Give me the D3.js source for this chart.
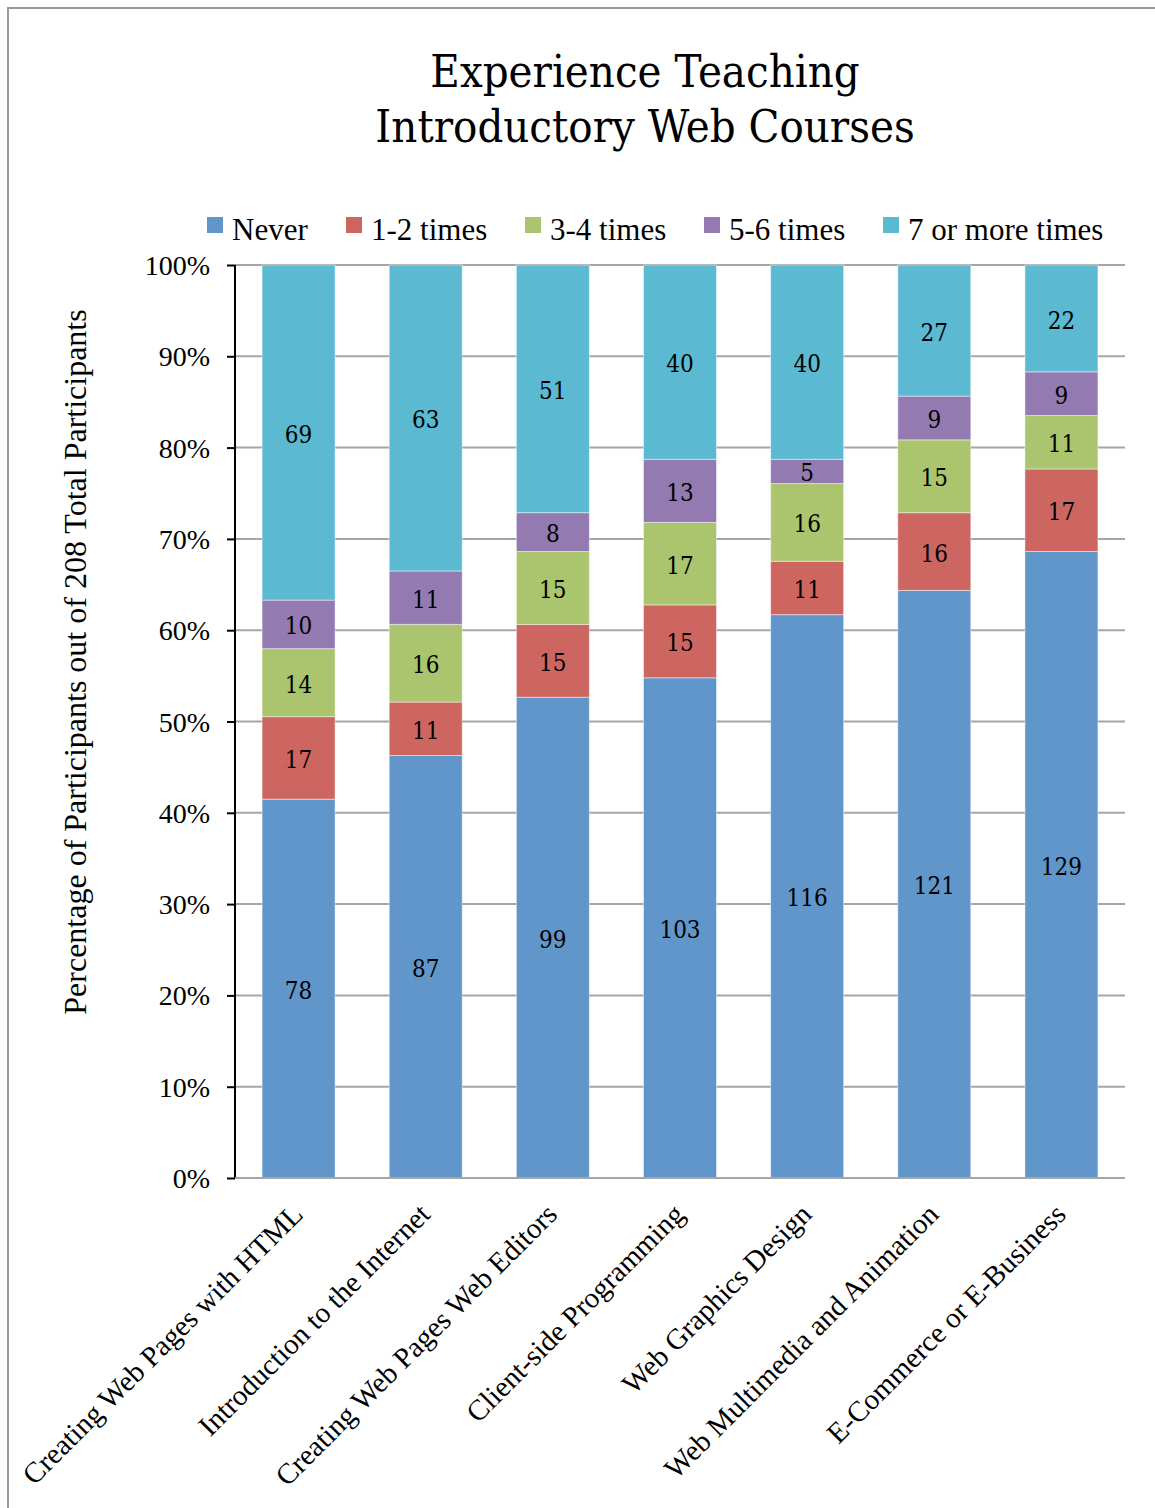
<!DOCTYPE html>
<html>
<head>
<meta charset="utf-8">
<script src="https://cdn.jsdelivr.net/npm/d3@7/dist/d3.min.js"></script>
<style>
  html, body { margin: 0; padding: 0; background: #fff; }
  svg { display: block; }
  .serif { font-family: "Liberation Serif", "Times New Roman", serif; }
  .cambria { font-family: "DejaVu Serif", serif; font-stretch: condensed; }
</style>
</head>
<body>
<svg id="chart" width="1155" height="1508"></svg>
<script>
// Courses taught and how often participants had taught each one
const categories = [
  "Creating Web Pages with HTML",
  "Introduction to the Internet",
  "Creating Web Pages Web Editors",
  "Client-side Programming",
  "Web Graphics Design",
  "Web Multimedia and Animation",
  "E-Commerce or E-Business"
];
const seriesNames = ["Never", "1-2 times", "3-4 times", "5-6 times", "7 or more times"];
const never      = [78, 87, 99, 103, 116, 121, 129];
const times1to2  = [17, 11, 15, 15, 11, 16, 17];
const times3to4  = [14, 16, 15, 17, 16, 15, 11];
const times5to6  = [10, 11, 8, 13, 5, 9, 9];
const times7plus = [69, 63, 51, 40, 40, 27, 22];
const yTicks = [0, 0.1, 0.2, 0.3, 0.4, 0.5, 0.6, 0.7, 0.8, 0.9, 1.0];
const colors = ["#6096C9", "#CD6661", "#ABC46E", "#937BB1", "#5BB9D2"];

const seriesValues = [never, times1to2, times3to4, times5to6, times7plus];

// Rows for d3.stack, normalised to shares of each course total
const rows = categories.map((c, i) => {
  const row = { category: c };
  seriesNames.forEach((s, k) => { row[s] = seriesValues[k][i]; });
  return row;
});

const svg = d3.select("#chart");

// Outer frame of the chart
svg.append("rect")
  .attr("x", 8).attr("y", 8)
  .attr("width", 1170).attr("height", 1520)
  .attr("fill", "#fff")
  .attr("stroke", "#9a9a9a").attr("stroke-width", 2);

const plot = { left: 235, right: 1125, top: 265, bottom: 1178 };

const x = d3.scaleBand()
  .domain(categories)
  .range([plot.left, plot.right])
  .paddingInner(0.426)
  .paddingOuter(0.213);

const y = d3.scaleLinear().domain([0, 1]).range([plot.bottom, plot.top]);

const stack = d3.stack().keys(seriesNames).offset(d3.stackOffsetExpand);
const layers = stack(rows);

// Horizontal gridlines
svg.append("g")
  .selectAll("line")
  .data(yTicks)
  .join("line")
  .attr("x1", plot.left).attr("x2", plot.right)
  .attr("y1", d => y(d)).attr("y2", d => y(d))
  .attr("stroke", "#a6a6a6").attr("stroke-width", 2);

// Stacked bars
const layerG = svg.append("g")
  .selectAll("g")
  .data(layers)
  .join("g")
  .attr("fill", (d, i) => colors[i]);

layerG.selectAll("rect")
  .data(d => d)
  .join("rect")
  .attr("x", d => x(d.data.category))
  .attr("width", x.bandwidth())
  .attr("y", d => y(d[1]))
  .attr("height", d => y(d[0]) - y(d[1]))
  .attr("stroke", "#ffffff").attr("stroke-opacity", 0.45).attr("stroke-width", 1);

// Value labels in the middle of each segment
layers.forEach((layer, k) => {
  svg.append("g")
    .selectAll("text")
    .data(layer)
    .join("text")
    .attr("class", "cambria")
    .attr("x", d => x(d.data.category) + x.bandwidth() / 2)
    .attr("y", d => (y(d[0]) + y(d[1])) / 2)
    .attr("dy", "0.42em")
    .attr("text-anchor", "middle")
    .attr("font-size", 24)
    .attr("fill", "#000")
    .text(d => d.data[seriesNames[k]]);
});

// Y axis
const yAxis = d3.axisLeft(y)
  .tickValues(yTicks)
  .tickFormat(d3.format(".0%"))
  .tickSize(8)
  .tickPadding(17);
const yAxisG = svg.append("g")
  .attr("transform", `translate(${plot.left},0)`)
  .call(yAxis);
yAxisG.select(".domain").attr("stroke", "#000").attr("stroke-width", 2)
  .attr("d", `M0,${plot.top}V${plot.bottom}`);
yAxisG.selectAll(".tick line").attr("stroke", "#000").attr("stroke-width", 2);
yAxisG.selectAll(".tick text")
  .attr("class", "serif")
  .attr("font-size", 28)
  .attr("fill", "#000")
  .attr("dy", "0.34em");

// Baseline along 0%
svg.append("line")
  .attr("x1", plot.left).attr("x2", plot.right)
  .attr("y1", y(0)).attr("y2", y(0))
  .attr("stroke", "#a6a6a6").attr("stroke-width", 2);

// Category labels, slanted
svg.append("g")
  .selectAll("text")
  .data(categories)
  .join("text")
  .attr("class", "serif")
  .attr("font-size", 29)
  .attr("text-anchor", "end")
  .attr("transform", d => `translate(${x(d) + x.bandwidth() / 2 + 6},${plot.bottom + 38}) rotate(-45)`)
  .text(d => d);

// Y axis title
svg.append("text")
  .attr("class", "serif")
  .attr("font-size", 32)
  .attr("text-anchor", "middle")
  .attr("transform", `translate(86,662) rotate(-90)`)
  .text("Percentage of Participants out of 208 Total Participants");

// Title
const title = svg.append("text")
  .attr("class", "cambria")
  .attr("font-size", 45)
  .attr("text-anchor", "middle");
title.append("tspan").attr("x", 645).attr("y", 87).text("Experience Teaching");
title.append("tspan").attr("x", 645).attr("y", 142).text("Introductory Web Courses");

// Legend
const legendX = [207, 346, 525, 704, 883];
const legend = svg.append("g")
  .selectAll("g")
  .data(seriesNames)
  .join("g")
  .attr("transform", (d, i) => `translate(${legendX[i]},217)`);
legend.append("rect")
  .attr("width", 16).attr("height", 16)
  .attr("fill", (d, i) => colors[i]);
legend.append("text")
  .attr("class", "serif")
  .attr("x", 25).attr("y", 23)
  .attr("font-size", 31)
  .text(d => d);
</script>
</body>
</html>
